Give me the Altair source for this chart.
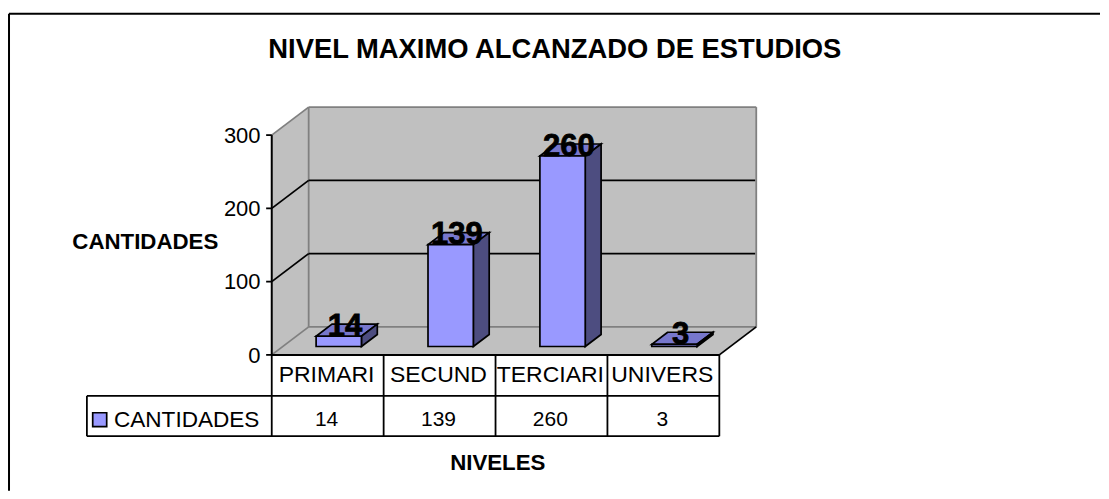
import altair as alt
import pandas as pd

categories = ["PRIMARI", "SECUND", "TERCIARI", "UNIVERS"]
values = [14, 139, 260, 3]
y_ticks = [0, 100, 200, 300]
title_text = "NIVEL MAXIMO ALCANZADO DE ESTUDIOS"
y_title = "CANTIDADES"
x_title = "NIVELES"
series_name = "CANTIDADES"

# axis domains: x in category units, y in value units
XS = alt.Scale(domain=[-2.357, 7.402], nice=False, zero=False)
YS = alt.Scale(domain=[-185.5, 473.2], nice=False, zero=False)

# oblique projection of the depth axis, in axis units
DX, DV = 0.33, 38.2
WALL_TOP = 300
BAR_W = 0.405
D0, D1 = 0.3, 0.73        # depth span of a bar
ROW1, ROW2 = -56.0, -111.0
LEG_L = -1.652
FRAME_L, FRAME_T = -2.348, 465.5
FRAME_R, FRAME_B = 7.402, -185.5

FRONT, SIDE, TOP = "#9999FF", "#4D4D80", "#7777CC"
WALL, EDGE = "#C0C0C0", "#808080"


def vert_area(rows, **mk):
    return alt.Chart(pd.DataFrame(rows)).mark_area(**mk).encode(
        x=alt.X("x:Q", scale=XS, axis=None),
        y=alt.Y("y:Q", scale=YS, axis=None),
        y2="y2:Q",
        detail="g:N",
    )


def horiz_area(rows, **mk):
    return alt.Chart(pd.DataFrame(rows)).mark_area(orient="horizontal", **mk).encode(
        y=alt.Y("y:Q", scale=YS, axis=None),
        x=alt.X("x:Q", scale=XS, axis=None),
        x2="x2:Q",
        detail="g:N",
    )


def rects(rows, **mk):
    return alt.Chart(pd.DataFrame(rows)).mark_rect(**mk).encode(
        x=alt.X("x:Q", scale=XS, axis=None),
        x2="x2:Q",
        y=alt.Y("y:Q", scale=YS, axis=None),
        y2="y2:Q",
    )


def segs(rows, color="black", width=1.8):
    df = pd.DataFrame(rows, columns=["x", "y", "x2", "y2"])
    return alt.Chart(df).mark_rule(color=color, strokeWidth=width).encode(
        x=alt.X("x:Q", scale=XS, axis=None),
        x2="x2:Q",
        y=alt.Y("y:Q", scale=YS, axis=None),
        y2="y2:Q",
    )


def texts(rows, size, bold=False, align="center", font="Liberation Sans", **mk):
    df = pd.DataFrame(rows, columns=["x", "y", "t"])
    return alt.Chart(df).mark_text(
        fontSize=size, font=font, fontWeight="bold" if bold else "normal",
        align=align, baseline="middle", color="black", **mk
    ).encode(
        x=alt.X("x:Q", scale=XS, axis=None),
        y=alt.Y("y:Q", scale=YS, axis=None),
        text="t:N",
    )


n = len(categories)
layers = []

# walls and floor
layers.append(rects([dict(x=DX, x2=n + DX, y=DV, y2=WALL_TOP + DV)], fill=WALL))
layers.append(vert_area(
    [dict(g="s", x=0, y=0, y2=WALL_TOP), dict(g="s", x=DX, y=DV, y2=WALL_TOP + DV)],
    color=WALL))
layers.append(horiz_area(
    [dict(g="f", y=0, x=0, x2=n), dict(g="f", y=DV, x=DX, x2=n + DX)],
    color=WALL))
layers.append(segs([
    (DX, WALL_TOP + DV, n + DX, WALL_TOP + DV),
    (n + DX, DV, n + DX, WALL_TOP + DV),
    (DX, DV, DX, WALL_TOP + DV),
    (DX, DV, n + DX, DV),
    (0, WALL_TOP, DX, WALL_TOP + DV),
    (0, 0, DX, DV),
], color=EDGE, width=1.8))

# gridlines on both walls
grid = []
for t in y_ticks[1:-1]:
    grid.append((0, t, DX, t + DV))
    grid.append((DX, t + DV, n + DX - 0.01, t + DV))
layers.append(segs(grid))
layers.append(segs([(n, 0, n + DX, DV)]))

# bars
for i, (c, v) in enumerate(zip(categories, values)):
    x0 = i + 0.5 - BAR_W / 2 + D0 * DX
    x1 = x0 + BAR_W
    v0 = D0 * DV
    step_x = (D1 - D0) * DX
    step_v = (D1 - D0) * DV
    layers.append(horiz_area(
        [dict(g=c, y=v0 + v, x=x0, x2=x1),
         dict(g=c, y=v0 + v + step_v, x=x0 + step_x, x2=x1 + step_x)],
        color=TOP, stroke="black", strokeWidth=1.7))
    layers.append(vert_area(
        [dict(g=c, x=x1, y=v0, y2=v0 + v),
         dict(g=c, x=x1 + step_x, y=v0 + step_v, y2=v0 + v + step_v)],
        color=SIDE, stroke="black", strokeWidth=1.7))
    layers.append(rects([dict(x=x0, x2=x1, y=v0, y2=v0 + v)],
                        fill=FRONT, stroke="black", strokeWidth=1.7))

# bar value labels
mid = (D0 + D1) / 2
layers.append(texts(
    [(i + 0.5 + mid * DX - 0.015, v + mid * DV + 4.6, str(v))
     for i, v in enumerate(values)],
    31, bold=True, stroke="black", strokeWidth=0.8))

# value axis
layers.append(segs([(0, 0, 0, WALL_TOP)], width=2))
layers.append(segs([(-0.05, t, 0, t) for t in y_ticks]))
layers.append(texts([(-0.1, t - 1, str(t)) for t in y_ticks], 22, align="right"))

# data table
table = [(0, 0, n, 0), (LEG_L, ROW1, n, ROW1), (LEG_L, ROW2, n, ROW2),
         (LEG_L, ROW1, LEG_L, ROW2)]
table += [(i, 0, i, ROW2) for i in range(n + 1)]
layers.append(segs(table))
layers.append(segs([(0, 0, n, 0)], width=2))
layers.append(texts([(i + 0.49, -27.5, c) for i, c in enumerate(categories)], 23))
layers.append(texts([(i + 0.49, -89, str(v)) for i, v in enumerate(values)], 21))
layers.append(rects([dict(x=-1.6, x2=-1.475, y=-79, y2=-98)],
                    fill=FRONT, stroke="black", strokeWidth=1.7))
layers.append(texts([(-1.41, -89, series_name)], 22.6, align="left"))

# titles
layers.append(texts([(2.53, 415.6, title_text)], 27.4, bold=True))
layers.append(texts([(-1.13, 154, y_title)], 22.3, bold=True))
layers.append(texts([(2.02, -147.4, x_title)], 22.3, bold=True))

# outer frame
layers.append(segs([(FRAME_L, FRAME_T, FRAME_R, FRAME_T),
                    (FRAME_L, FRAME_T, FRAME_L, FRAME_B)], width=2))

chart = alt.layer(*layers).properties(
    width=1093, height=483, padding=0, background="white"
).configure_view(stroke=None)

chart.save("out.html", embed_options={"renderer": "svg", "actions": False})
